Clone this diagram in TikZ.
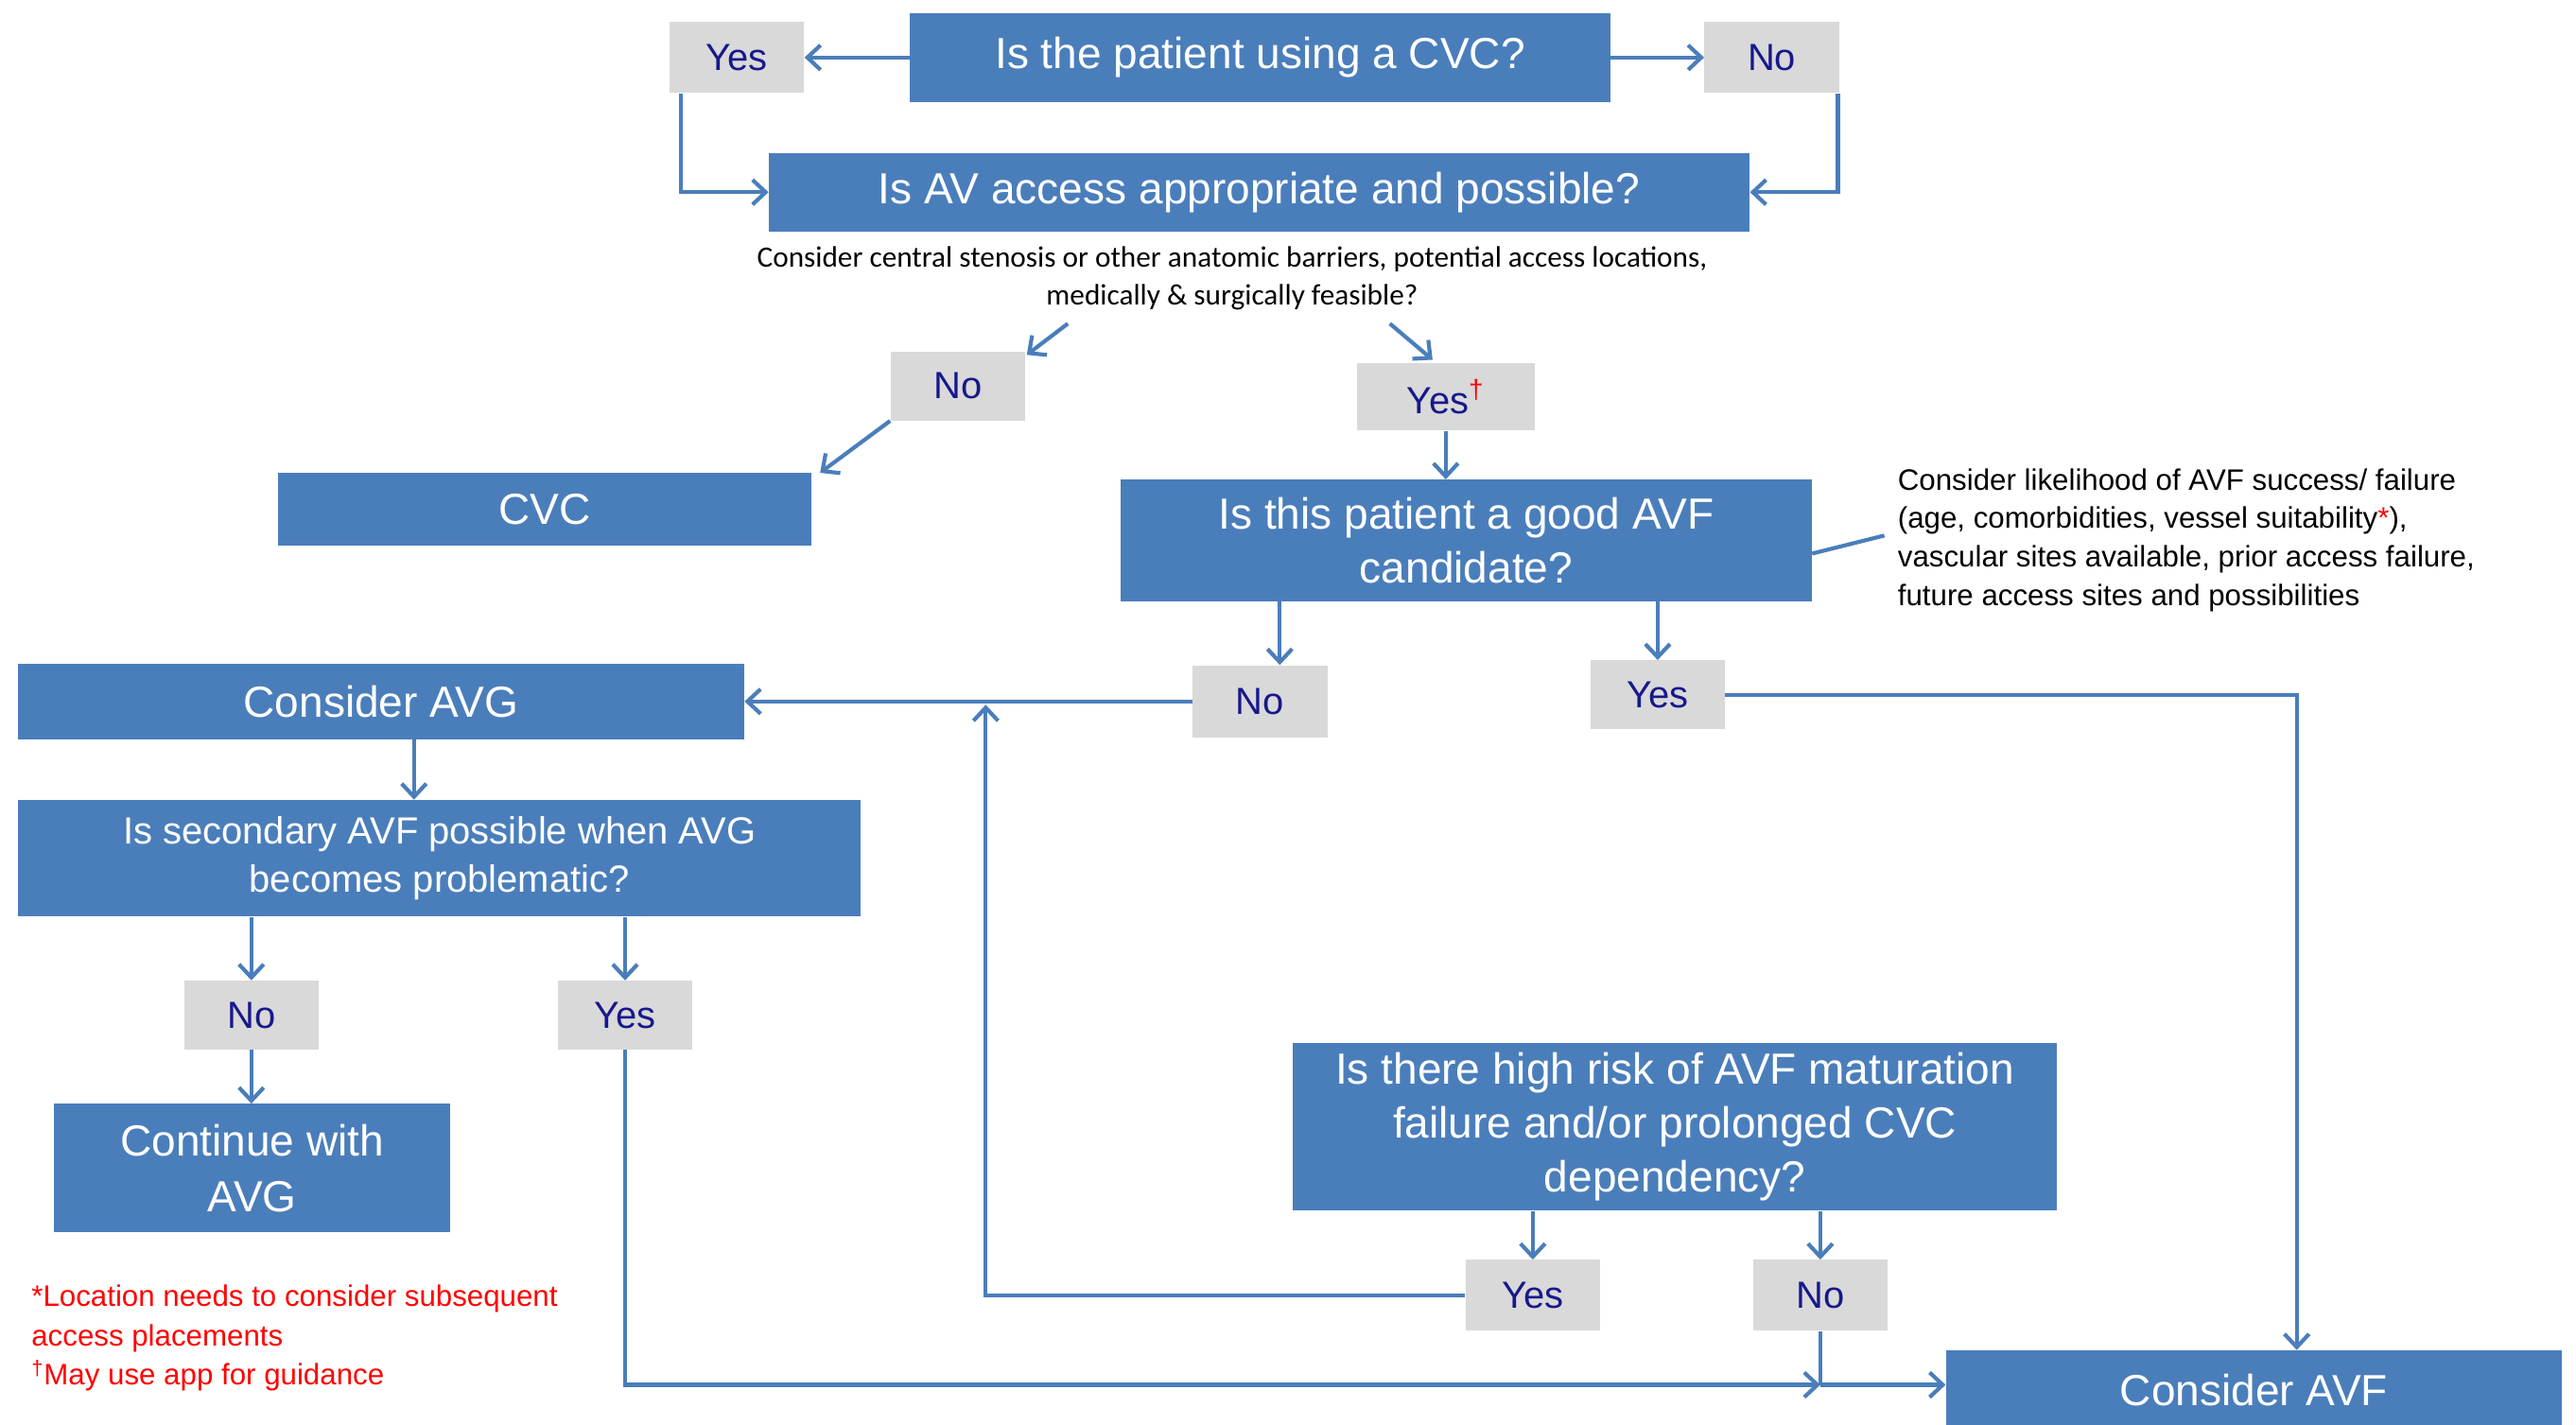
\documentclass[tikz,border=0pt]{standalone}
\usepackage{fontspec}
\setmainfont{Liberation Sans}
\newfontfamily\calibri{Carlito}
\usetikzlibrary{arrows.meta}
\definecolor{boxblue}{RGB}{74,126,187}
\definecolor{lblgray}{RGB}{217,217,217}
\definecolor{lblnavy}{RGB}{24,24,140}
\definecolor{linkblue}{RGB}{74,126,187}
\begin{document}
\begin{tikzpicture}[x=1pt,y=-1pt,
  bluebox/.style={fill=boxblue,text=white,inner sep=0pt,align=center,font=\fontsize{26.5}{33}\selectfont},
  lbl/.style={fill=lblgray,text=lblnavy,inner sep=0pt,minimum width=82pt,minimum height=43pt,font=\fontsize{23}{28}\selectfont},
  conn/.style={draw=linkblue,line width=2.4pt},
  arr/.style={conn,-{Straight Barb[length=8pt,width=15pt]}}]
\useasboundingbox[fill=white] (0,0) rectangle (1568,867);

% main boxes
\node[bluebox,minimum width=426pt,minimum height=54pt] (A) at (767,35) {Is the patient using a CVC?};
\node[bluebox,minimum width=597pt,minimum height=48pt] (B) at (766.5,117) {Is AV access appropriate and possible?};
\node[bluebox,minimum width=325pt,minimum height=44pt] (CVC) at (331.5,310) {CVC};
\node[bluebox,minimum width=421pt,minimum height=74pt] (C) at (892.5,329) {Is this patient a good AVF\\candidate?};
\node[bluebox,minimum width=442pt,minimum height=46pt] (AVG) at (232,427) {Consider AVG};
\node[bluebox,minimum width=513pt,minimum height=71pt,font=\fontsize{23}{29}\selectfont] (D) at (267.5,522.5) {Is secondary AVF possible when AVG\\becomes problematic?};
\node[bluebox,minimum width=241pt,minimum height=78pt,font=\fontsize{26.5}{34}\selectfont] (E) at (153.5,711) {Continue with\\AVG};
\node[bluebox,minimum width=465pt,minimum height=102pt] (F) at (1019.5,686) {Is there high risk of AVF maturation\\failure and/or prolonged CVC\\dependency?};
\node[bluebox,minimum width=375pt,minimum height=48pt] (G) at (1372,846) {Consider AVF};

% labels
\node[lbl] (Yes1) at (448.5,35) {Yes};
\node[lbl] (No1) at (1078.5,35) {No};
\node[lbl,minimum height=42pt] (No2) at (583,235) {No};
\node[lbl,minimum width=108pt,minimum height=41pt] (Yes2) at (880,241.5) {Yes\textsuperscript{\textcolor{red}{†}}};
\node[lbl,minimum height=44pt] (No3) at (767,427) {No};
\node[lbl,minimum height=42pt] (Yes3) at (1009,423) {Yes};
\node[lbl,minimum height=42pt] (No4) at (153,618) {No};
\node[lbl,minimum height=42pt] (Yes4) at (380.5,618) {Yes};
\node[lbl] (Yes5) at (933,788.5) {Yes};
\node[lbl] (No5) at (1108,788.5) {No};

% notes
\node[anchor=north,align=center,inner sep=0pt,font=\calibri\fontsize{18}{23}\selectfont] (note1) at (750,150)
  {Consider central stenosis or other anatomic barriers, potential access locations,\\medically \& surgically feasible?};
\node[anchor=north west,align=left,inner sep=0pt,font=\fontsize{18}{23.5}\selectfont] (note2) at (1155,285)
  {Consider likelihood of AVF success/ failure\\(age, comorbidities, vessel suitability\textcolor{red}{*}),\\vascular sites available, prior access failure,\\future access sites and possibilities};
\node[anchor=north west,align=left,inner sep=0pt,text=red,font=\fontsize{18}{24}\selectfont] (foot) at (19,782)
  {*Location needs to consider subsequent\\access placements\\\textsuperscript{†}May use app for guidance};

% helper coordinates
\coordinate (n1a) at (650,197);
\coordinate (n1b) at (846,197);
\coordinate (t1) at (625,216);
\coordinate (t2) at (872,219);
\coordinate (c2n) at (1147,326);
\coordinate (c2s) at (1103,337);
\coordinate (J) at (1108,843);
\coordinate (K) at (600,429);
\coordinate (R) at (1398,423);

% connectors
\draw[arr] (A.west) -- (Yes1.east);
\draw[arr] (A.east) -- (No1.west);
\draw[arr] ([xshift=-34pt]Yes1.south) |- (B.west);
\draw[arr] ([xshift=-1pt]No1.south east) |- (B.east);
\draw[arr] (n1a) -- (t1);
\draw[arr] (n1b) -- (t2);
\draw[arr] (No2.south west) -- ([xshift=5pt]CVC.north east);
\draw[arr] (Yes2.south) -- (Yes2.south |- C.north);
\draw[conn] (c2s) -- (c2n);
\draw[arr] ([xshift=12pt]No3.north |- C.south) -- ([xshift=12pt]No3.north);
\draw[arr] (Yes3.north |- C.south) -- (Yes3.north);
\draw[arr] (No3.west) -- (AVG.east);
\draw[arr] (Yes3.east) -- (R) -- (R |- G.north);
\draw[arr] ([xshift=20pt]AVG.south) -- ([xshift=20pt]AVG.south |- D.north);
\draw[arr] (No4.north |- D.south) -- (No4.north);
\draw[arr] (Yes4.north |- D.south) -- (Yes4.north);
\draw[arr] (No4.south) -- (No4.south |- E.north);
\draw[arr] (Yes4.south) |- (J);
\draw[conn] (No5.south) -- (J);
\draw[arr] (J) -- (J -| G.west);
\draw[arr] (Yes5.north |- F.south) -- (Yes5.north);
\draw[arr] (No5.north |- F.south) -- (No5.north);
\draw[arr] (Yes5.west) -| (K);
\end{tikzpicture}
\end{document}
